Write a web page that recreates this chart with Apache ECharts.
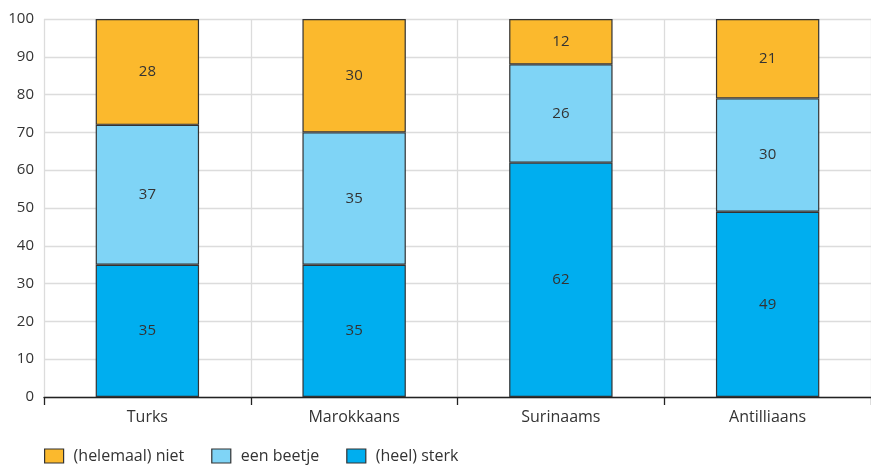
<!DOCTYPE html>
<html><head><meta charset="utf-8">
<script src="https://cdn.jsdelivr.net/npm/echarts@6/dist/echarts.min.js"></script>
<style>html,body{margin:0;padding:0;background:#fff}#c{width:871px;height:466px}</style>
</head><body><div id="c"></div>
<script>
const categories = ['Turks', 'Marokkaans', 'Surinaams', 'Antilliaans'];
const sterk = [35, 35, 62, 49];
const beetje = [37, 35, 26, 30];
const niet = [28, 30, 12, 21];
const seriesNames = ['(heel) sterk', 'een beetje', '(helemaal) niet'];
const yTicks = [0, 10, 20, 30, 40, 50, 60, 70, 80, 90, 100];

const colors = ['#00AEEF', '#7FD4F6', '#FBB92D'];
const font = 'Open Sans';
const chart = echarts.init(document.getElementById('c'));
function mk(name, data, color) {
  return {
    name, type: 'bar', stack: 'a', data, barWidth: '50%',
    itemStyle: { color, borderColor: '#333', borderWidth: 1.2 },
    label: { show: true, position: 'inside', color: '#333', fontSize: 15, fontFamily: font },
    emphasis: { disabled: true }
  };
}
chart.setOption({
  animation: false,
  textStyle: { fontFamily: font },
  grid: { left: 44, right: 0, top: 19, bottom: 69, containLabel: false },
  legend: {
    data: [seriesNames[2], seriesNames[1], seriesNames[0]],
    left: 44, top: 448, padding: 0, itemWidth: 19, itemHeight: 14, itemGap: 27,
    textStyle: { color: '#333', fontSize: 16, fontFamily: font, padding: [0, 0, 0, 5] },
    itemStyle: { borderColor: '#333', borderWidth: 1.2 },
    icon: 'rect', selectedMode: false
  },
  xAxis: {
    type: 'category', data: categories,
    axisLine: { lineStyle: { color: '#222', width: 1.3 } },
    axisTick: { show: true, length: 8, lineStyle: { color: '#222', width: 1.3 } },
    axisLabel: { color: '#333', fontSize: 16, margin: 12, fontFamily: font },
    splitLine: { show: true, lineStyle: { color: '#dcdcdc', width: 1.3 } }
  },
  yAxis: {
    type: 'value', min: yTicks[0], max: yTicks[yTicks.length - 1], interval: 10,
    axisLine: { show: false }, axisTick: { show: false },
    axisLabel: { color: '#333', fontSize: 15, margin: 10, fontFamily: font },
    splitLine: { lineStyle: { color: '#dcdcdc', width: 1.3 } }
  },
  series: [mk(seriesNames[0], sterk, colors[0]), mk(seriesNames[1], beetje, colors[1]), mk(seriesNames[2], niet, colors[2])]
});
</script></body></html>
